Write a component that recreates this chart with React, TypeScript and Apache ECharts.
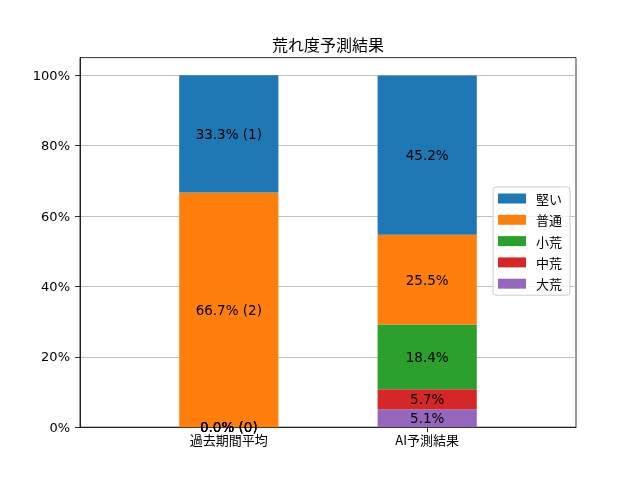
import React, { useEffect, useRef } from "react";
import * as echarts from "echarts";

const categories = ["過去期間平均", "AI予測結果"];
const seriesNames = ["大荒", "中荒", "小荒", "普通", "堅い"];
const legendOrder = ["堅い", "普通", "小荒", "中荒", "大荒"];
const colors = ["#9467bd", "#d62728", "#2ca02c", "#ff7f0e", "#1f77b4"];
const pastPct = [0.0, 0.0, 0.0, 66.7, 33.3];
const pastCounts = [0, 0, 0, 2, 1];
const aiPct = [5.1, 5.7, 18.4, 25.5, 45.2];
const yTicks = [0, 20, 40, 60, 80, 100];

const FONT = "Noto Sans CJK JP";
const NUMFONT = "'DejaVu Sans', 'Noto Sans CJK JP'";

export default function App() {
  const ref = useRef<HTMLDivElement>(null);
  useEffect(() => {
    document.body.style.margin = "0";
    const chart = echarts.init(ref.current!, null, { renderer: "svg" });
    const series = seriesNames.map((name, i) => ({
      name,
      type: "bar",
      stack: "total",
      xAxisIndex: 1,
      yAxisIndex: 1,
      barWidth: 99.2,
      itemStyle: { color: colors[i] },
      data: [pastPct[i], aiPct[i]],
      label: {
        show: true,
        position: "inside",
        color: "#000",
        fontFamily: NUMFONT,
        fontSize: 13.5,
        formatter: (p: any) =>
          p.dataIndex === 0
            ? `${pastPct[i].toFixed(1)}% (${pastCounts[i]})`
            : `${aiPct[i].toFixed(1)}%`,
      },
      z: 3,
    }));
    chart.setOption({
      animation: false,
      textStyle: { fontFamily: FONT },
      grid: [
        {
          left: 80,
          right: 64,
          top: 57.6,
          bottom: 52.8,
          show: true,
          borderColor: "#000",
          borderWidth: 0.8,
          backgroundColor: "transparent",
        },
        {
          left: 129.6,
          right: 113.6,
          top: 57.6,
          bottom: 52.8,
        },
      ],
      xAxis: [
        {
          type: "value",
          gridIndex: 0,
          min: -0.75,
          max: 1.75,
          splitLine: { show: false },
          axisLine: { show: true, lineStyle: { color: "#000", width: 0.8 } },
          axisTick: { show: false },
          axisLabel: { show: false },
        },
        {
          type: "category",
          gridIndex: 1,
          data: categories,
          axisLine: { show: false },
          axisTick: {
            show: true,
            alignWithLabel: true,
            length: 5,
            lineStyle: { color: "#000", width: 0.8 },
          },
          axisLabel: {
            color: "#000",
            fontSize: 13,
            fontFamily: FONT,
            margin: 6,
          },
          splitLine: { show: false },
        },
      ],
      yAxis: [
        {
          type: "value",
          gridIndex: 0,
          min: 0,
          max: 105,
          interval: 20,
          axisLine: {
            show: true,
            onZero: false,
            lineStyle: { color: "#000", width: 0.8 },
          },
          axisTick: {
            show: true,
            length: 5,
            customValues: yTicks,
            lineStyle: { color: "#000", width: 0.8 },
          },
          axisLabel: {
            customValues: yTicks,
            formatter: (v: number) => `${v}%`,
            color: "#000",
            fontSize: 13,
            fontFamily: NUMFONT,
            margin: 10,
          },
          splitLine: {
            show: true,
            lineStyle: { color: "#b0b0b0", width: 0.8 },
          },
        },
        {
          type: "value",
          gridIndex: 1,
          min: 0,
          max: 105,
          show: false,
          splitLine: { show: false },
        },
      ],
      legend: {
        orient: "vertical",
        right: 70,
        top: 187,
        data: legendOrder,
        icon: "rect",
        itemWidth: 28,
        itemHeight: 10,
        itemGap: 8.3,
        padding: [5, 8, 5, 5],
        backgroundColor: "rgba(255,255,255,0.8)",
        borderColor: "#cccccc",
        borderWidth: 1,
        borderRadius: 3,
        textStyle: {
          fontFamily: FONT,
          fontSize: 13,
          color: "#000",
          padding: [0, 0, 0, 5],
        },
      },
      graphic: [
        {
          type: "text",
          x: 328,
          y: 44,
          style: {
            text: "荒れ度予測結果",
            fontFamily: FONT,
            fontSize: 16,
            fill: "#000",
            textAlign: "center",
            textVerticalAlign: "middle",
          },
        },
      ],
      series,
    });
    return () => chart.dispose();
  }, []);
  return (
    <div
      ref={ref}
      style={{ position: "fixed", left: 0, top: 0, width: 640, height: 480 }}
    />
  );
}
